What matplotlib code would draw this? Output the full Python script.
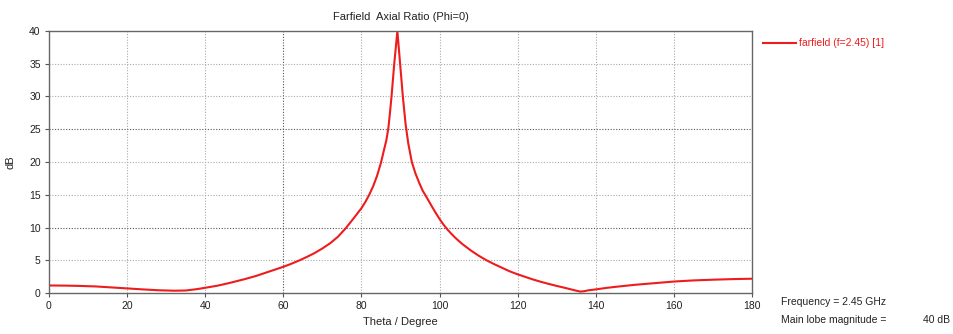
import matplotlib
matplotlib.use("Agg")
import matplotlib.pyplot as plt

theta = [0, 4, 8, 12, 16, 20, 24, 28, 32, 35, 38, 40, 43, 46, 50, 53, 56, 60,
         62, 64, 66, 68, 70, 72, 74, 76, 78, 80, 81, 82, 83, 84, 85, 85.8, 86.4, 86.9, 87.3,
         87.7, 88.4, 89.2,
         89.9, 90.6, 91.3, 92.0, 92.9, 93.8, 94.8, 95.7, 96.7, 98, 99, 100, 101, 102, 103, 104,
         105, 106, 108, 110, 112, 114, 116, 118, 120, 122, 124, 126, 128, 130, 132, 134, 135,
         136, 137, 138, 140, 143, 146, 150, 155, 160, 165, 170, 175, 180]
axial_ratio = [1.15, 1.13, 1.08, 1.0, 0.85, 0.7, 0.55, 0.42, 0.35, 0.38, 0.6, 0.8, 1.1, 1.5,
               2.1, 2.6, 3.2, 4.0, 4.45, 4.95, 5.5, 6.1, 6.8, 7.6, 8.6, 9.9, 11.4, 12.95, 13.9,
               15.0, 16.3, 17.9, 19.9, 21.9, 23.4, 25.2, 27.5, 30.0, 35.0, 40.0,
               35.0, 30.0, 25.8, 22.8, 20.0, 18.3, 16.8, 15.6, 14.6, 13.25, 12.25, 11.3, 10.45,
               9.7, 9.05, 8.45, 7.9, 7.4, 6.5, 5.7, 5.0, 4.4, 3.85, 3.3, 2.85, 2.45, 2.05, 1.7,
               1.38, 1.08, 0.8, 0.5, 0.35, 0.22, 0.27, 0.4, 0.55, 0.8, 1.0, 1.25, 1.5, 1.75,
               1.92, 2.03, 2.12, 2.18]
x_ticks = [0, 20, 40, 60, 80, 100, 120, 140, 160, 180]
y_ticks = [0, 5, 10, 15, 20, 25, 30, 35, 40]

plt.rcParams['font.family'] = ['Liberation Sans', 'DejaVu Sans']

fig = plt.figure(figsize=(9.54, 3.34), dpi=100)
ax = fig.add_axes([49/954, 41/334, (752-49)/954, (293-31)/334])

ax.plot(theta, axial_ratio, color='#ee1c1c', lw=1.5, label='farfield (f=2.45) [1]')
ax.set_xlim(0, 180)
ax.set_ylim(0, 40)
ax.set_xticks(x_ticks)
ax.set_yticks(y_ticks)
ax.tick_params(labelsize=7.5, length=3, width=0.8, color='#555555', labelcolor='#222222', pad=3)

for v in x_ticks[1:-1]:
    c = '#555555' if v == 60 else '#aaaaaa'
    ax.axvline(v, color=c, lw=0.8, ls=(0, (1, 1.5)), zorder=0)
for v in y_ticks[1:-1]:
    c = '#555555' if v in (10, 25) else '#aaaaaa'
    ax.axhline(v, color=c, lw=0.8, ls=(0, (1, 1.5)), zorder=0)

for s in ax.spines.values():
    s.set_color('#666666')
    s.set_linewidth(1.0)

ax.set_title('Farfield  Axial Ratio (Phi=0)', fontsize=8, color='#222222', pad=8)
ax.set_xlabel('Theta / Degree', fontsize=8, color='#222222', labelpad=4)
ax.set_ylabel('dB', fontsize=8, color='#222222', labelpad=10)

leg = ax.legend(loc='upper left', bbox_to_anchor=(1.005, 1.0), frameon=False,
                fontsize=7.5, handlelength=3.2, handletextpad=0.3, borderaxespad=0.3)
for t in leg.get_texts():
    t.set_color('#ee1c1c')

fig.text(781/954, 1 - 302/334, 'Frequency = 2.45 GHz', fontsize=7.5, color='#222222', va='center')
fig.text(781/954, 1 - 320/334, 'Main lobe magnitude =', fontsize=7.5, color='#222222', va='center')
fig.text(950/954, 1 - 320/334, '40 dB', fontsize=7.5, color='#222222', va='center', ha='right')

fig.savefig('out.png', dpi=100)
